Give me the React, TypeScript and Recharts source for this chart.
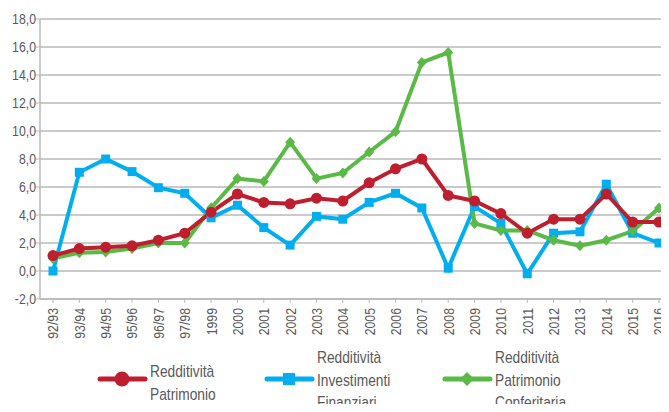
import React from "react";
import { LineChart, Line, XAxis, YAxis, CartesianGrid, Legend } from "recharts";

const categories = ["92/93","93/94","94/95","95/96","96/97","97/98","1999","2000","2001","2002","2003","2004","2005","2006","2007","2008","2009","2010","2011","2012","2013","2014","2015","2016"];
const patrimonio = [1.1,1.6,1.7,1.8,2.2,2.7,4.2,5.5,4.9,4.8,5.2,5.0,6.3,7.3,8.0,5.4,5.0,4.1,2.7,3.7,3.7,5.5,3.5,3.5];
const investimenti = [0.0,7.05,8.0,7.1,5.95,5.55,3.8,4.7,3.1,1.85,3.9,3.7,4.9,5.55,4.5,0.2,4.6,3.4,-0.2,2.7,2.8,6.2,2.7,2.0];
const conferitaria = [0.9,1.3,1.35,1.6,2.0,2.0,4.5,6.6,6.4,9.2,6.6,7.0,8.5,9.95,14.9,15.6,3.4,2.9,2.9,2.2,1.8,2.2,2.85,4.5];
const yTicks = [-2,0,2,4,6,8,10,12,14,16,18];

const data = categories.map((c, i) => ({
  cat: c,
  patrimonio: patrimonio[i],
  investimenti: investimenti[i],
  conferitaria: conferitaria[i],
}));

const RED = "#be1e2d";
const BLUE = "#00aeef";
const GREEN = "#5bb947";
const TEXT = "#595959";
const GRID = "#b8b8b8";
const FONT = "'Liberation Sans', Arial, sans-serif";
const SX = 0.82;

const CircleDot = (p: any) => <circle key={p.index} cx={p.cx} cy={p.cy} r={5.5} fill={RED} />;
const SquareDot = (p: any) => <rect key={p.index} x={p.cx - 4.5} y={p.cy - 4.5} width={9} height={9} fill={BLUE} />;
const DiamondDot = (p: any) => (
  <polygon key={p.index} points={`${p.cx},${p.cy - 5.5} ${p.cx + 5},${p.cy} ${p.cx},${p.cy + 5.5} ${p.cx - 5},${p.cy}`} fill={GREEN} />
);

const XTick = (p: any) => (
  <g transform={`translate(${p.x},${p.y + 3})`}>
    <text transform={`rotate(-90) scale(${SX},1)`} textAnchor="end" dy="0.36em" fill={TEXT} fontSize={15} fontFamily={FONT}>
      {p.payload.value}
    </text>
  </g>
);

const fmt = (v: number) => v.toFixed(1).replace(".", ",");

const YTick = (p: any) => (
  <g transform={`translate(${p.x},${p.y})`}>
    <text transform={`scale(${SX},1)`} textAnchor="end" dy="0.36em" fill={TEXT} fontSize={15} fontFamily={FONT}>
      {fmt(p.payload.value)}
    </text>
  </g>
);

const legendItems = [
  { color: RED, lines: ["Redditività", "Patrimonio"], shape: "circle", x: 100 },
  { color: BLUE, lines: ["Redditività", "Investimenti", "Finanziari"], shape: "square", x: 267 },
  { color: GREEN, lines: ["Redditività", "Patrimonio", "Conferitaria"], shape: "diamond", x: 445 },
];

const LegendContent = () => (
  <svg width={669} height={74} style={{ display: "block" }}>
    {legendItems.map((it, k) => {
      const x0 = it.x;
      const cy = 41;
      const mx = x0 + 22;
      const n = it.lines.length;
      const startY = n === 2 ? 33 : 19;
      const step = n === 2 ? 23.3 : 22.8;
      return (
        <g key={k}>
          <line x1={x0} y1={cy} x2={x0 + 45} y2={cy} stroke={it.color} strokeWidth={5} strokeLinecap="round" />
          {it.shape === "circle" && <circle cx={mx} cy={cy} r={7.5} fill={it.color} />}
          {it.shape === "square" && <rect x={mx - 6} y={cy - 6} width={12} height={12} fill={it.color} />}
          {it.shape === "diamond" && (
            <polygon points={`${mx},${cy - 7} ${mx + 7},${cy} ${mx},${cy + 7} ${mx - 7},${cy}`} fill={it.color} />
          )}
          {it.lines.map((ln, j) => (
            <g key={j} transform={`translate(${x0 + 50},${startY + j * step})`}>
              <text transform={`scale(0.86,1)`} dy="0.36em" fill={TEXT} fontSize={16} fontFamily={FONT}>
                {ln}
              </text>
            </g>
          ))}
        </g>
      );
    })}
  </svg>
);

export default function App() {
  return (
    <div style={{ margin: -8, width: 669, height: 412, overflow: "hidden", background: "#fff" }}>
      <LineChart
        width={680}
        height={412}
        data={data}
        margin={{ top: 19, right: 8, bottom: 68, left: 0 }}
      >
        <CartesianGrid vertical={false} stroke={GRID} strokeWidth={1.5} />
        <XAxis
          dataKey="cat"
          interval={0}
          height={45}
          padding={{ left: 13, right: 13 }}
          tick={<XTick />}
          axisLine={{ stroke: GRID, strokeWidth: 1.5 }}
          tickLine={{ stroke: GRID }}
          tickSize={4}
        />
        <YAxis
          width={40}
          domain={[-2, 18]}
          ticks={yTicks}
          interval={0}
          tick={<YTick />}
          axisLine={{ stroke: GRID, strokeWidth: 1.5 }}
          tickLine={{ stroke: GRID }}
          tickSize={4}
          tickMargin={0}
        />
        <Legend
          layout="horizontal"
          verticalAlign="middle"
          align="center"
          wrapperStyle={{ top: 338, left: 0, width: 669, height: 74 }}
          content={<LegendContent />}
        />
        <Line type="linear" dataKey="investimenti" stroke={BLUE} strokeWidth={4} dot={SquareDot} isAnimationActive={false} />
        <Line type="linear" dataKey="conferitaria" stroke={GREEN} strokeWidth={4} dot={DiamondDot} isAnimationActive={false} />
        <Line type="linear" dataKey="patrimonio" stroke={RED} strokeWidth={4} dot={CircleDot} isAnimationActive={false} />
      </LineChart>
    </div>
  );
}
